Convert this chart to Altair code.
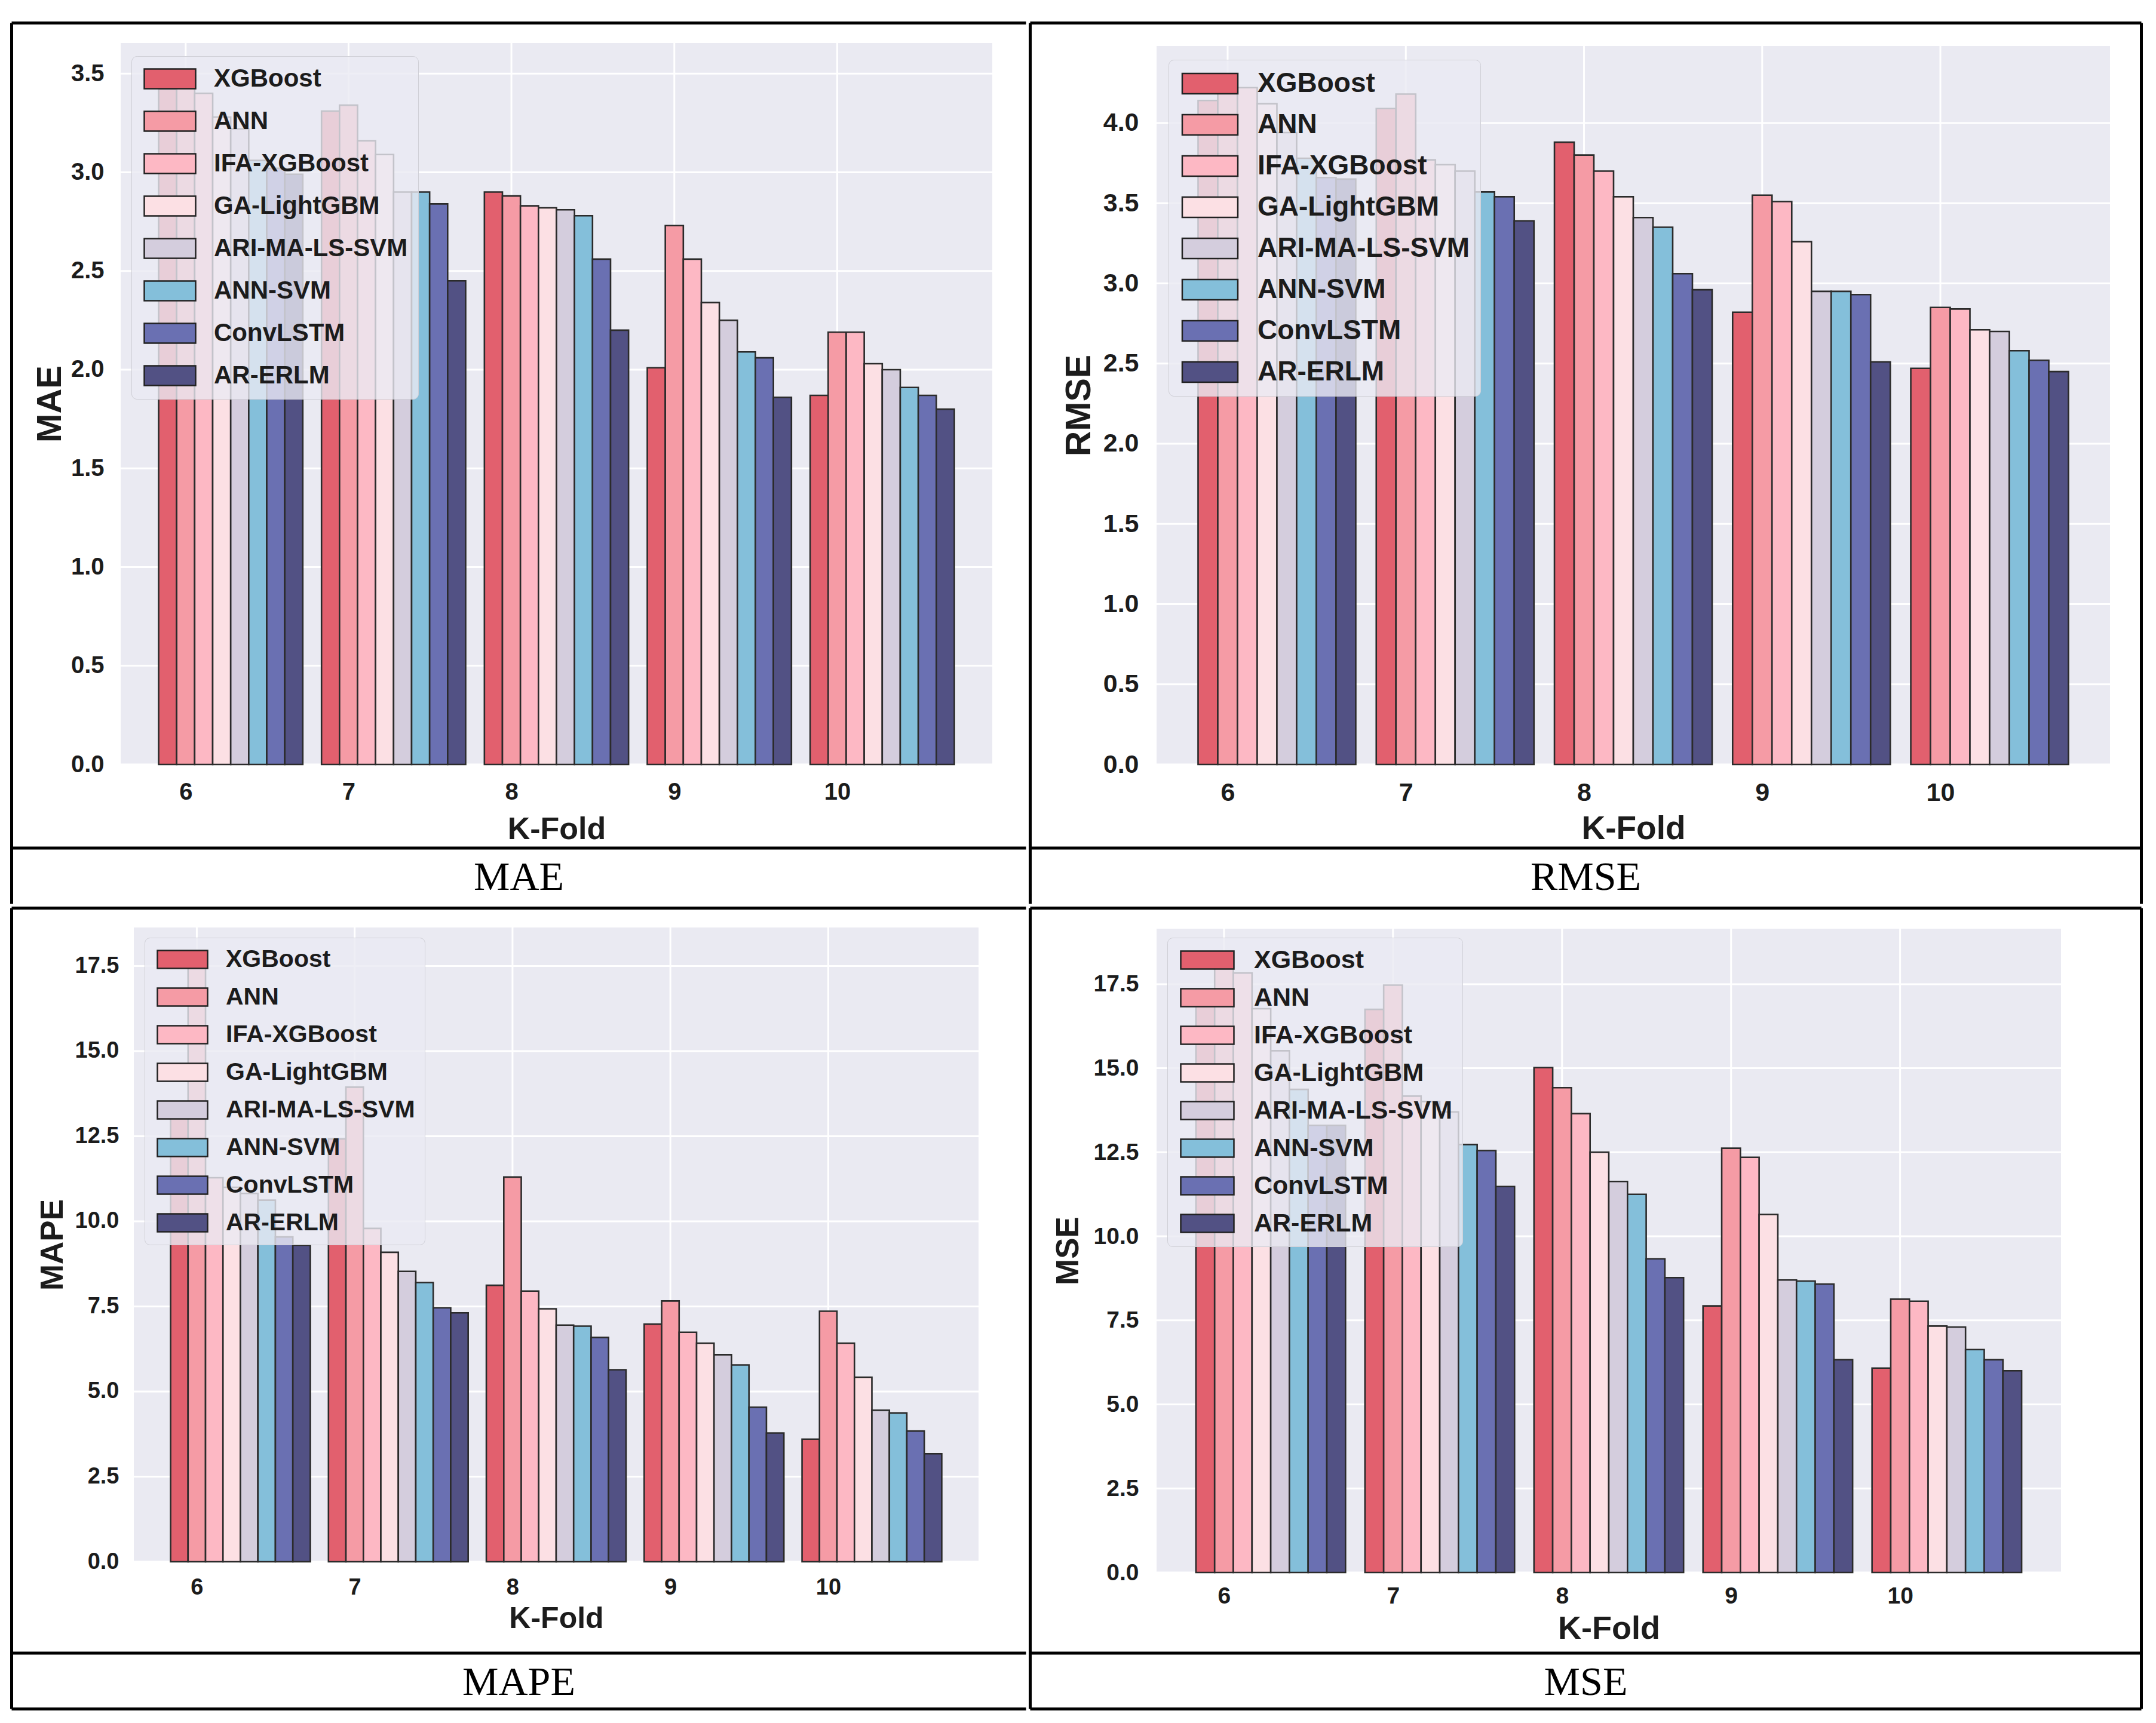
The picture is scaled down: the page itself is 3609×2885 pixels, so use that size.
import altair as alt
import pandas as pd

# ---------------- data ----------------
models = ["XGBoost", "ANN", "IFA-XGBoost", "GA-LightGBM",
          "ARI-MA-LS-SVM", "ANN-SVM", "ConvLSTM", "AR-ERLM"]
folds = [6, 7, 8, 9, 10]
colors = ["#E2606E", "#F59BA5", "#FDB8C4", "#FCE0E4",
          "#D4CDDD", "#84BFDA", "#6A70B2", "#525184"]

# rows = folds (6..10), columns = models (order above)
mae_values = [
    [3.42, 3.49, 3.40, 3.28, 3.22, 3.06, 3.02, 2.99],
    [3.31, 3.34, 3.16, 3.09, 2.90, 2.90, 2.84, 2.45],
    [2.90, 2.88, 2.83, 2.82, 2.81, 2.78, 2.56, 2.20],
    [2.01, 2.73, 2.56, 2.34, 2.25, 2.09, 2.06, 1.86],
    [1.87, 2.19, 2.19, 2.03, 2.00, 1.91, 1.87, 1.80],
]
rmse_values = [
    [4.14, 4.27, 4.22, 4.12, 3.94, 3.78, 3.66, 3.65],
    [4.09, 4.18, 3.77, 3.74, 3.70, 3.57, 3.54, 3.39],
    [3.88, 3.80, 3.70, 3.54, 3.41, 3.35, 3.06, 2.96],
    [2.82, 3.55, 3.51, 3.26, 2.95, 2.95, 2.93, 2.51],
    [2.47, 2.85, 2.84, 2.71, 2.70, 2.58, 2.52, 2.45],
]
mape_values = [
    [13.3, 17.7, 11.28, 11.0, 10.82, 10.62, 9.54, 9.30],
    [12.42, 13.94, 9.79, 9.09, 8.53, 8.20, 7.46, 7.31],
    [8.12, 11.30, 7.95, 7.43, 6.95, 6.92, 6.59, 5.64],
    [6.98, 7.66, 6.74, 6.42, 6.08, 5.78, 4.54, 3.78],
    [3.60, 7.36, 6.42, 5.42, 4.45, 4.37, 3.84, 3.17],
]
mse_values = [
    [17.0, 18.4, 17.83, 16.77, 15.52, 14.37, 13.3, 13.3],
    [16.75, 17.47, 14.17, 14.01, 13.70, 12.73, 12.55, 11.48],
    [15.02, 14.42, 13.65, 12.50, 11.63, 11.25, 9.33, 8.77],
    [7.93, 12.62, 12.35, 10.65, 8.70, 8.67, 8.58, 6.33],
    [6.08, 8.13, 8.07, 7.33, 7.30, 6.63, 6.33, 6.00],
]

mae_ticks = [0.0, 0.5, 1.0, 1.5, 2.0, 2.5, 3.0, 3.5]
rmse_ticks = [0.0, 0.5, 1.0, 1.5, 2.0, 2.5, 3.0, 3.5, 4.0]
mape_ticks = [0.0, 2.5, 5.0, 7.5, 10.0, 12.5, 15.0, 17.5]
mse_ticks = [0.0, 2.5, 5.0, 7.5, 10.0, 12.5, 15.0, 17.5]

# ---------------- style ----------------
SANS = "Liberation Sans, Arial, sans-serif"
SERIF = "Liberation Serif, Times New Roman, serif"
BG = "#EAEAF2"
LINE = 5
HALF = LINE / 2
TXT = "#1c1c1c"
P_IN = 0.115
P_OUT = 0.233


def long_df(values):
    rows = []
    for fi, f in enumerate(folds):
        for mi, m in enumerate(models):
            rows.append({"fold": f, "model": m, "value": values[fi][mi]})
    return pd.DataFrame(rows)


def panel(p):
    df = long_df(p["values"])
    W, H, L, R, T, B, cap = p["W"], p["H"], p["L"], p["R"], p["T"], p["B"], p["cap"]
    dx, dy = p["dx"], p["dy"]          # plot area offset inside the view
    Wv, Hv = W + dx, H + dy
    Lc, Tc = L - dx, T - dy            # cell edge distance from the view origin
    step = W / (len(folds) - P_IN + 2 * P_OUT)
    bar_w = step * (1 - P_IN) / len(models)
    sw, sh = p["sw"], p["sh"]
    ext = 2 * sw / sh - 1
    path = f"M-1,-1L{ext:.3f},-1L{ext:.3f},1L-1,1Z"

    xenc = alt.X("fold:O", title="K-Fold",
                 scale=alt.Scale(paddingInner=P_IN, paddingOuter=P_OUT, range=[dx, dx + W]),
                 axis=alt.Axis(labelAngle=0, tickOffset=-2.5 * bar_w, grid=False,
                               labelFontSize=p["xl"], labelPadding=p["xlp"],
                               titleFontSize=p["xt"], titlePadding=p["xtp"]))
    xoff = alt.XOffset("model:N", sort=models,
                       scale=alt.Scale(domain=models, paddingInner=0, paddingOuter=0))
    yenc = alt.Y("value:Q", title=p["title"],
                 scale=alt.Scale(domain=[0, p["top"]], nice=False, zero=True, range=[dy + H, dy]),
                 axis=alt.Axis(values=p["ticks"], format=".1f", grid=False, offset=-dx,
                               labelFontSize=p["yl"], labelPadding=p["ylp"],
                               titleFontSize=p["yt"], titlePadding=p["ytp"]))

    one = alt.Data(values=[{"k": 0}])
    base = alt.Chart(one)

    bg = base.mark_rect(color=BG).encode(
        x=alt.value(dx), x2=alt.value(dx + W), y=alt.value(dy), y2=alt.value(dy + H))
    hgrid = alt.Chart(pd.DataFrame({"value": p["ticks"]})).mark_rule(
        color="white", strokeWidth=3).encode(y=yenc, x=alt.value(dx), x2=alt.value(dx + W))
    vgrid = alt.Chart(pd.DataFrame({"fold": folds, "model": ["ANN"] * len(folds)})).mark_rule(
        color="white", strokeWidth=3).encode(x=xenc, xOffset=xoff,
                                             y=alt.value(dy), y2=alt.value(dy + H))

    bars = alt.Chart(df).mark_bar(stroke="#2b2b2b", strokeWidth=2.6, opacity=1).encode(
        x=xenc, xOffset=xoff, y=yenc,
        color=alt.Color("model:N", sort=models,
                        scale=alt.Scale(domain=models, range=colors),
                        legend=alt.Legend(
                            orient="none", legendX=p["lx"] + dx, legendY=p["ly"] + dy,
                            direction="vertical", title=None,
                            symbolType=path, symbolSize=sh ** 2,
                            symbolStrokeColor="#222222", symbolStrokeWidth=2.5,
                            symbolOpacity=1,
                            labelFont=SANS, labelFontSize=p["lf"],
                            labelFontWeight="bold", labelColor=TXT,
                            labelLimit=1000, labelOffset=sw - sh + p["lo"],
                            rowPadding=p["rp"], padding=p["pad"],
                            fillColor="rgba(234,234,242,0.8)",
                            strokeColor="#cfcfd6",
                            cornerRadius=9, zindex=1)),
    )

    layers = [bg, hgrid, vgrid, bars]
    # invisible cell box: defines the cell bounds for the layout
    layers.append(base.mark_rect(fillOpacity=0, strokeOpacity=0).encode(
        x=alt.value(-Lc), x2=alt.value(Wv + R), y=alt.value(-Tc), y2=alt.value(Hv + B)))

    def hline(y):
        return base.mark_rule(color="black", strokeWidth=LINE).encode(
            x=alt.value(-Lc + HALF), x2=alt.value(Wv + R - HALF), y=alt.value(y))

    def vline(x):
        return base.mark_rule(color="black", strokeWidth=LINE).encode(
            x=alt.value(x), y=alt.value(-Tc + HALF), y2=alt.value(Hv + B - HALF))

    sides = p["sides"]
    if "top" in sides:
        layers.append(hline(-Tc + HALF))
    if "bottom" in sides:
        layers.append(hline(Hv + B - HALF))
    if "left" in sides:
        layers.append(vline(-Lc + HALF))
    if "right" in sides:
        layers.append(vline(Wv + R - HALF))
    layers.append(hline(Hv + B - cap))
    layers.append(base.mark_text(font=SERIF, fontSize=68, color="black",
                                 baseline="middle", align="center").encode(
        x=alt.value((Wv + R - Lc) / 2), y=alt.value(Hv + B - cap / 2 + 2),
        text=alt.value(p["caption"])))

    return alt.layer(*layers).properties(width=Wv, height=Hv)


A = panel(dict(values=mae_values, title="MAE", caption="MAE", ticks=mae_ticks, top=3.655,
               W=1459, H=1208, L=185, R=59, T=36, B=236, cap=96, dx=0, dy=0,
               xl=40, xlp=26, xt=52, xtp=17, yl=40, ylp=28, yt=58, ytp=5,
               lx=18, ly=22, sw=86, sh=33, lf=42, rp=27, lo=26, pad=17,
               sides=["top", "left"]))
Bp = panel(dict(values=rmse_values, title="RMSE", caption="RMSE", ticks=rmse_ticks, top=4.48,
                W=1596, H=1203, L=214, R=55, T=41, B=236, cap=96, dx=0, dy=5,
                xl=43, xlp=26, xt=55, xtp=12, yl=43, ylp=30, yt=59, ytp=10,
                lx=20, ly=23, sw=93, sh=34, lf=46, rp=23, lo=27, pad=17,
                sides=["top", "left", "right"]))
C = panel(dict(values=mape_values, title="MAPE", caption="MAPE", ticks=mape_ticks, top=18.63,
               W=1414, H=1062, L=207, R=82, T=35, B=249, cap=96, dx=22, dy=0,
               xl=38, xlp=24, xt=50, xtp=8, yl=38, ylp=25, yt=53, ytp=10,
               lx=18, ly=17, sw=84, sh=30, lf=41, rp=21, lo=25, pad=16,
               sides=["top", "left", "bottom"]))
D = panel(dict(values=mse_values, title="MSE", caption="MSE", ticks=mse_ticks, top=19.15,
               W=1514, H=1078, L=214, R=137, T=37, B=231, cap=96, dx=0, dy=2,
               xl=39, xlp=20, xt=54, xtp=8, yl=39, ylp=30, yt=53, ytp=15,
               lx=18, ly=15, sw=89, sh=30, lf=43, rp=19, lo=27, pad=16,
               sides=["top", "left", "right", "bottom"]))

chart = (
    alt.concat(A, Bp, C, D, columns=2, spacing=0, align="each", bounds="full")
    .resolve_scale(color="independent", x="independent", y="independent", xOffset="independent")
    .resolve_legend(color="independent")
    .properties(padding={"left": 8, "top": 27, "right": 5, "bottom": 5}, background="white")
    .configure_view(fill="transparent", stroke="transparent")
    .configure_axis(domain=False, ticks=False, tickSize=0, grid=False,
                    labelFont=SANS, labelFontWeight="bold", labelColor=TXT,
                    titleFont=SANS, titleFontWeight="bold", titleColor=TXT)
)

chart.save("out.html", embed_options={"renderer": "svg", "actions": False})
